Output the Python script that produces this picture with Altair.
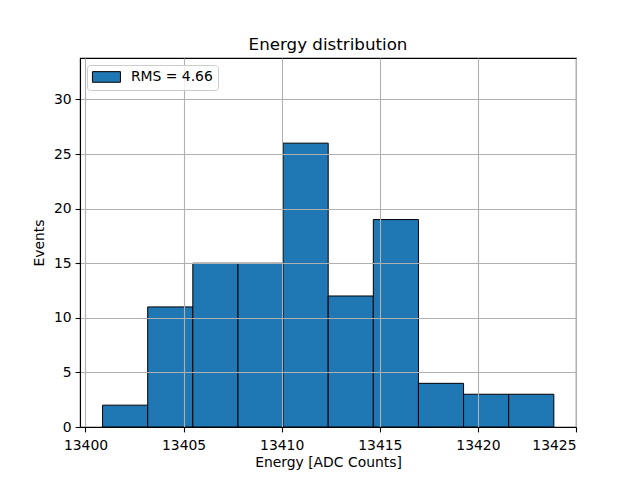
import altair as alt
import pandas as pd

bin_edges = [13400.87, 13403.17, 13405.47, 13407.77, 13410.07, 13412.37,
             13414.67, 13416.97, 13419.27, 13421.57, 13423.87]
counts = [2, 11, 15, 15, 26, 12, 19, 4, 3, 3]
legend_label = "RMS = 4.66"
x_ticks = [13400, 13405, 13410, 13415, 13420, 13425]
y_ticks = [0, 5, 10, 15, 20, 25, 30]

df = pd.DataFrame({
    "start": bin_edges[:-1],
    "end": bin_edges[1:],
    "count": counts,
    "series": [legend_label] * len(counts),
})

FONT = "DejaVu Sans"

chart = alt.Chart(df).mark_bar(stroke="black", strokeWidth=1, opacity=1).encode(
    x=alt.X("start:Q",
            scale=alt.Scale(domain=[13399.72, 13425.0], nice=False, zero=False),
            axis=alt.Axis(values=x_ticks, title="Energy [ADC Counts]", format="d",
                          grid=True, zindex=1, labelPadding=7, titlePadding=3)),
    x2="end:Q",
    y=alt.Y("count:Q",
            scale=alt.Scale(domain=[0, 33.8], nice=False),
            axis=alt.Axis(values=y_ticks, title="Events", grid=True, zindex=1,
                          labelPadding=4, titlePadding=7)),
    y2=alt.datum(0),
    color=alt.Color("series:N",
                    scale=alt.Scale(range=["#1f77b4"]),
                    legend=alt.Legend(title=None, orient="top-left", zindex=3)),
).properties(
    width=496,
    height=369,
    title=alt.TitleParams("Energy distribution", fontSize=16.7, font=FONT,
                          fontWeight="normal", color="black", offset=4),
    padding={"left": 72, "top": 50, "right": 48, "bottom": 60},
    autosize="none",
).configure_view(
    stroke="black", strokeWidth=1.1
).configure_axis(
    labelFont=FONT, labelFontSize=13.9, labelColor="black",
    titleFont=FONT, titleFontSize=13.9, titleColor="black", titleFontWeight="normal",
    domainColor="black", domainWidth=1.1,
    tickColor="black", tickSize=4.9, tickWidth=1.1,
    gridColor="#b0b0b0", gridWidth=1.1,
).configure_legend(
    labelFont=FONT, labelFontSize=13.9, labelColor="black",
    padding=5, offset=7, strokeColor="#cccccc", fillColor="rgba(255,255,255,0.8)",
    cornerRadius=3,
    symbolType="M-1.3,-1.06L4.3,-1.06L4.3,1.06L-1.3,1.06Z", symbolSize=100,
    symbolStrokeColor="black", symbolStrokeWidth=1, symbolOpacity=1,
    labelOffset=25,
)

chart.save("out.html", embed_options={"renderer": "svg", "actions": False})
